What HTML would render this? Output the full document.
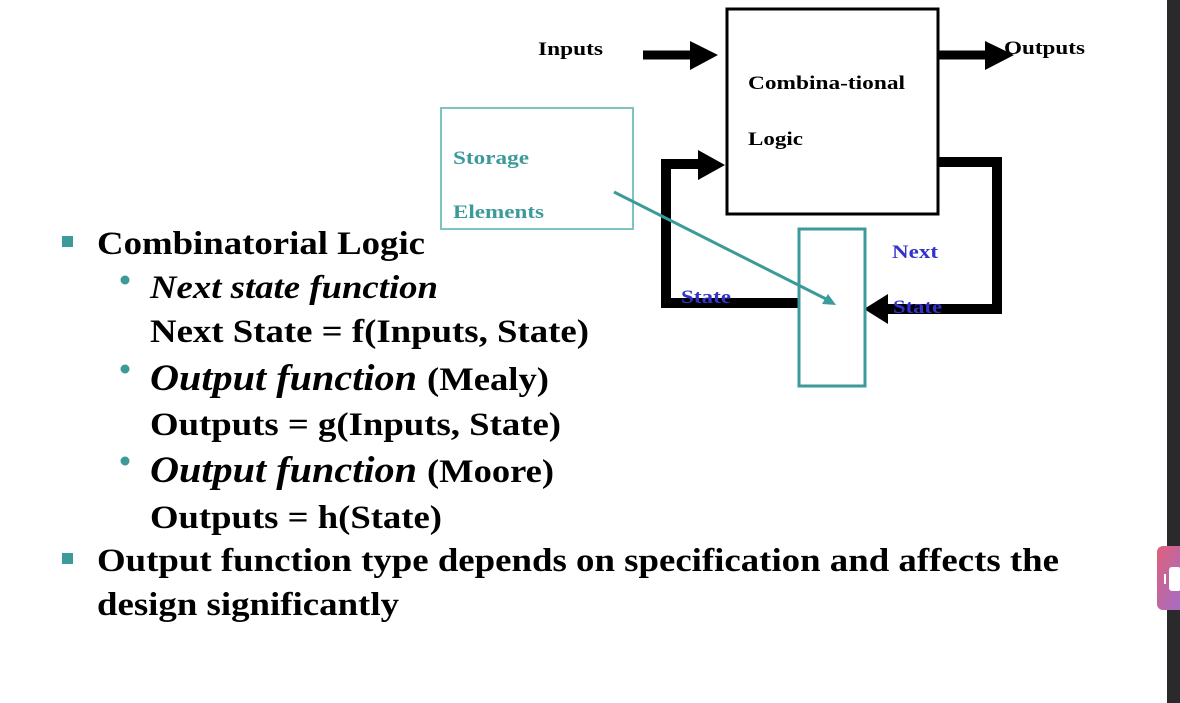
<!DOCTYPE html>
<html><head><style>
html,body{margin:0;padding:0;background:#fff;width:1180px;height:703px;overflow:hidden;}
svg{position:absolute;left:0;top:0;}
text{font-family:"Liberation Serif","Times New Roman",Times,"Nimbus Roman",serif;font-weight:bold;}
</style></head><body>
<svg width="1180" height="703" viewBox="0 0 1180 703">
<rect x="727" y="9" width="211" height="205" fill="none" stroke="#000" stroke-width="3"/>
<text x="538" y="55" font-size="19" textLength="65" lengthAdjust="spacingAndGlyphs">Inputs</text>
<line x1="643" y1="55" x2="692" y2="55" stroke="#000" stroke-width="9"/>
<polygon points="690,41 718,55 690,70" fill="#000"/>
<line x1="939" y1="55" x2="987" y2="55" stroke="#000" stroke-width="9"/>
<polygon points="985,41 1014,55 985,70" fill="#000"/>
<text x="1004" y="54" font-size="19" textLength="81" lengthAdjust="spacingAndGlyphs">Outputs</text>
<text x="748" y="89" font-size="19" textLength="157" lengthAdjust="spacingAndGlyphs">Combina-tional</text>
<text x="748" y="145" font-size="19" textLength="55" lengthAdjust="spacingAndGlyphs">Logic</text>
<rect x="441" y="108" width="192" height="121" fill="none" stroke="#7cc4c4" stroke-width="2"/>
<text x="453" y="164" font-size="19" fill="#3d9a9a" textLength="76" lengthAdjust="spacingAndGlyphs">Storage</text>
<text x="453" y="218" font-size="19" fill="#3d9a9a" textLength="91" lengthAdjust="spacingAndGlyphs">Elements</text>
<polyline points="939,162 997,162 997,309 885,309" fill="none" stroke="#000" stroke-width="10"/>
<polygon points="888,294 864,309 888,324" fill="#000"/>
<polyline points="800,303 666,303 666,164 702,164" fill="none" stroke="#000" stroke-width="10"/>
<polygon points="698,150 725,165 698,180" fill="#000"/>
<rect x="799" y="229" width="66" height="157" fill="none" stroke="#3d9a9a" stroke-width="3"/>
<line x1="614" y1="192" x2="828" y2="300" stroke="#3d9a9a" stroke-width="3"/>
<polygon points="836,305 822,304 828,294" fill="#3d9a9a"/>
<text x="892" y="258" font-size="19" fill="#3333cc" textLength="46" lengthAdjust="spacingAndGlyphs">Next</text>
<text x="681" y="303" font-size="19" fill="#3333cc" textLength="50" lengthAdjust="spacingAndGlyphs">State</text>
<text x="893" y="313" font-size="19" fill="#3333cc" textLength="49" lengthAdjust="spacingAndGlyphs">State</text>
<rect x="62" y="236" width="11" height="11" fill="#3d9a9a"/>
<rect x="62" y="553" width="11" height="11" fill="#3d9a9a"/>
<circle cx="125" cy="280" r="4.5" fill="#3d9a9a"/>
<circle cx="125" cy="369" r="4.5" fill="#3d9a9a"/>
<circle cx="125" cy="461" r="4.5" fill="#3d9a9a"/>
<text x="97" y="254" font-size="33" textLength="328" lengthAdjust="spacingAndGlyphs">Combinatorial Logic</text>
<text x="150" y="298" font-size="33" font-style="italic" textLength="288" lengthAdjust="spacingAndGlyphs">Next state function</text>
<text x="150" y="342" font-size="33" textLength="439" lengthAdjust="spacingAndGlyphs">Next State = f(Inputs, State)</text>
<text x="150" y="390" font-size="37" font-style="italic" textLength="267" lengthAdjust="spacingAndGlyphs">Output function</text>
<text x="427" y="390" font-size="33" textLength="122" lengthAdjust="spacingAndGlyphs">(Mealy)</text>
<text x="150" y="435" font-size="33" textLength="411" lengthAdjust="spacingAndGlyphs">Outputs = g(Inputs, State)</text>
<text x="150" y="482" font-size="37" font-style="italic" textLength="267" lengthAdjust="spacingAndGlyphs">Output function</text>
<text x="427" y="482" font-size="33" textLength="127" lengthAdjust="spacingAndGlyphs">(Moore)</text>
<text x="150" y="528" font-size="33" textLength="292" lengthAdjust="spacingAndGlyphs">Outputs = h(State)</text>
<text x="97" y="571" font-size="33" textLength="962" lengthAdjust="spacingAndGlyphs">Output function type depends on specification and affects the</text>
<text x="97" y="615" font-size="33" textLength="302" lengthAdjust="spacingAndGlyphs">design significantly</text>
<rect x="1167" y="0" width="13" height="703" fill="#2a2a2a"/>
<defs><linearGradient id="g" x1="0" y1="0" x2="1" y2="1"><stop offset="0" stop-color="#e0607a"/><stop offset="1" stop-color="#9b6fd0"/></linearGradient></defs>
<rect x="1157" y="546" width="30" height="64" rx="6" fill="url(#g)"/>
<rect x="1169" y="567" width="12" height="24" rx="3" fill="#fff"/>
<rect x="1164" y="574" width="2" height="10" fill="#fff"/>
</svg>
</body></html>
